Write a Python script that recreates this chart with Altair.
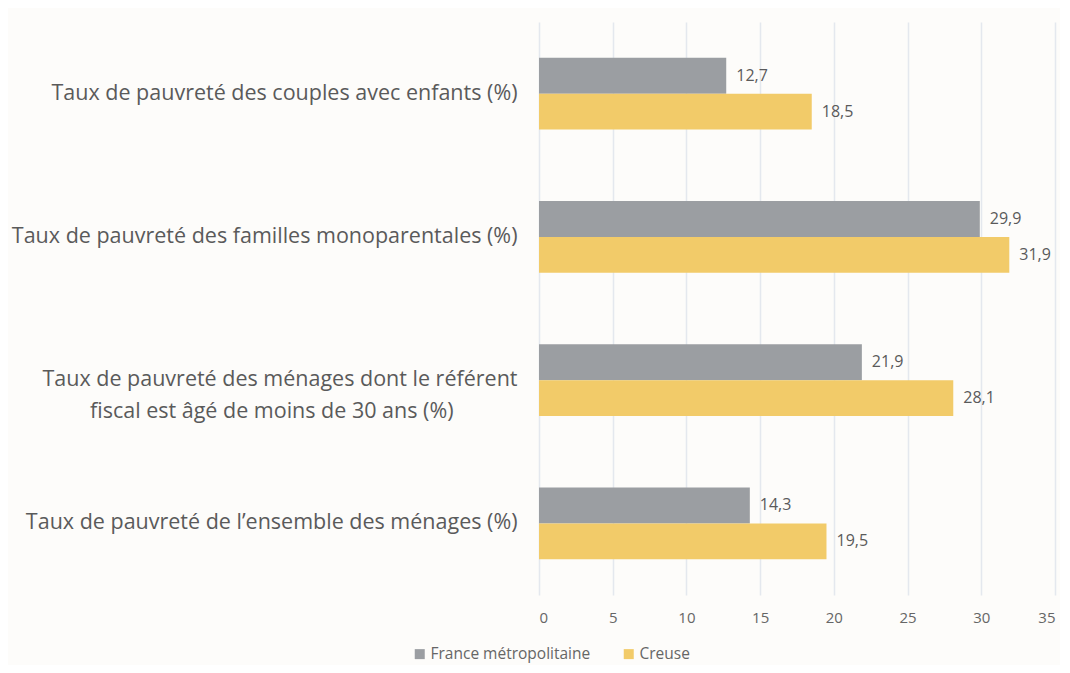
import altair as alt
import pandas as pd

PAD = "\u2800"
categories = [
    "Taux de pauvreté des couples avec enfants (%)",
    "Taux de pauvreté des familles monoparentales (%)",
    "Taux de pauvreté des ménages dont le référent\nfiscal est âgé de moins de 30 ans (%)" + PAD * 4,
    "Taux de pauvreté de l’ensemble des ménages (%)",
]
series = ["France métropolitaine", "Creuse"]
france = [12.7, 29.9, 21.9, 14.3]
creuse = [18.5, 31.9, 28.1, 19.5]
colors = ["#9b9ea2", "#f2cb69"]
x_ticks = [0, 5, 10, 15, 20, 25, 30, 35]

rows = []
for c, f, k in zip(categories, france, creuse):
    rows.append({"cat": c, "serie": series[0], "val": f, "lab": f"{f:.1f}".replace(".", ",")})
    rows.append({"cat": c, "serie": series[1], "val": k, "lab": f"{k:.1f}".replace(".", ",")})
df = pd.DataFrame(rows)

FONT = "Open Sans"
TXT = "#5a5a5a"

y_enc = alt.Y(
    "cat:N",
    sort=categories,
    scale=alt.Scale(paddingInner=0.5, paddingOuter=0.25),
    axis=alt.Axis(
        title=None,
        domain=False,
        ticks=False,
        labelPadding=22,
        labelLimit=800,
        labelFontSize=21.5,
        labelColor=TXT,
        labelFont=FONT,
        labelLineHeight=32,
        labelExpr="split(datum.label, '\\n')",
    ),
)
yoff = alt.YOffset("serie:N", sort=series, scale=alt.Scale(paddingInner=0, paddingOuter=0))

bars = alt.Chart(df).mark_bar().encode(
    x=alt.X(
        "val:Q",
        scale=alt.Scale(domain=[0, 35]),
        axis=alt.Axis(
            title=None,
            values=x_ticks,
            domain=False,
            ticks=False,
            grid=True,
            gridColor="#e4e8ee",
            gridWidth=1.5,
            labelPadding=15,
            labelFontSize=15,
            labelColor="#666666",
            labelFont=FONT,
        ),
    ),
    y=y_enc,
    yOffset=yoff,
    color=alt.Color(
        "serie:N",
        sort=series,
        scale=alt.Scale(domain=series, range=colors),
        legend=alt.Legend(
            title=None,
            orient="none",
            direction="horizontal",
            legendX=-127,
            legendY=624,
            symbolType="square",
            symbolSize=100,
            symbolStrokeWidth=0,
            labelFontSize=15.5,
            labelColor="#666666",
            labelFont=FONT,
            columnPadding=30,
            labelOffset=3,
        ),
    ),
)

texts = alt.Chart(df).mark_text(
    align="left", baseline="middle", dx=10, fontSize=16, color=TXT, font=FONT
).encode(
    x="val:Q",
    y=alt.Y("cat:N", sort=categories),
    yOffset=alt.YOffset("serie:N", sort=series),
    text="lab:N",
)

chart = (
    alt.layer(bars, texts)
    .properties(
        width=516,
        height=573,
        autosize=alt.AutoSizeParams(type="none"),
        padding={"left": 531, "top": 14, "right": 5, "bottom": 70},
        background="#fdfcfa",
    )
    .configure_view(stroke=None)
)

chart.save("out.html", embed_options={"renderer": "svg", "actions": False})
